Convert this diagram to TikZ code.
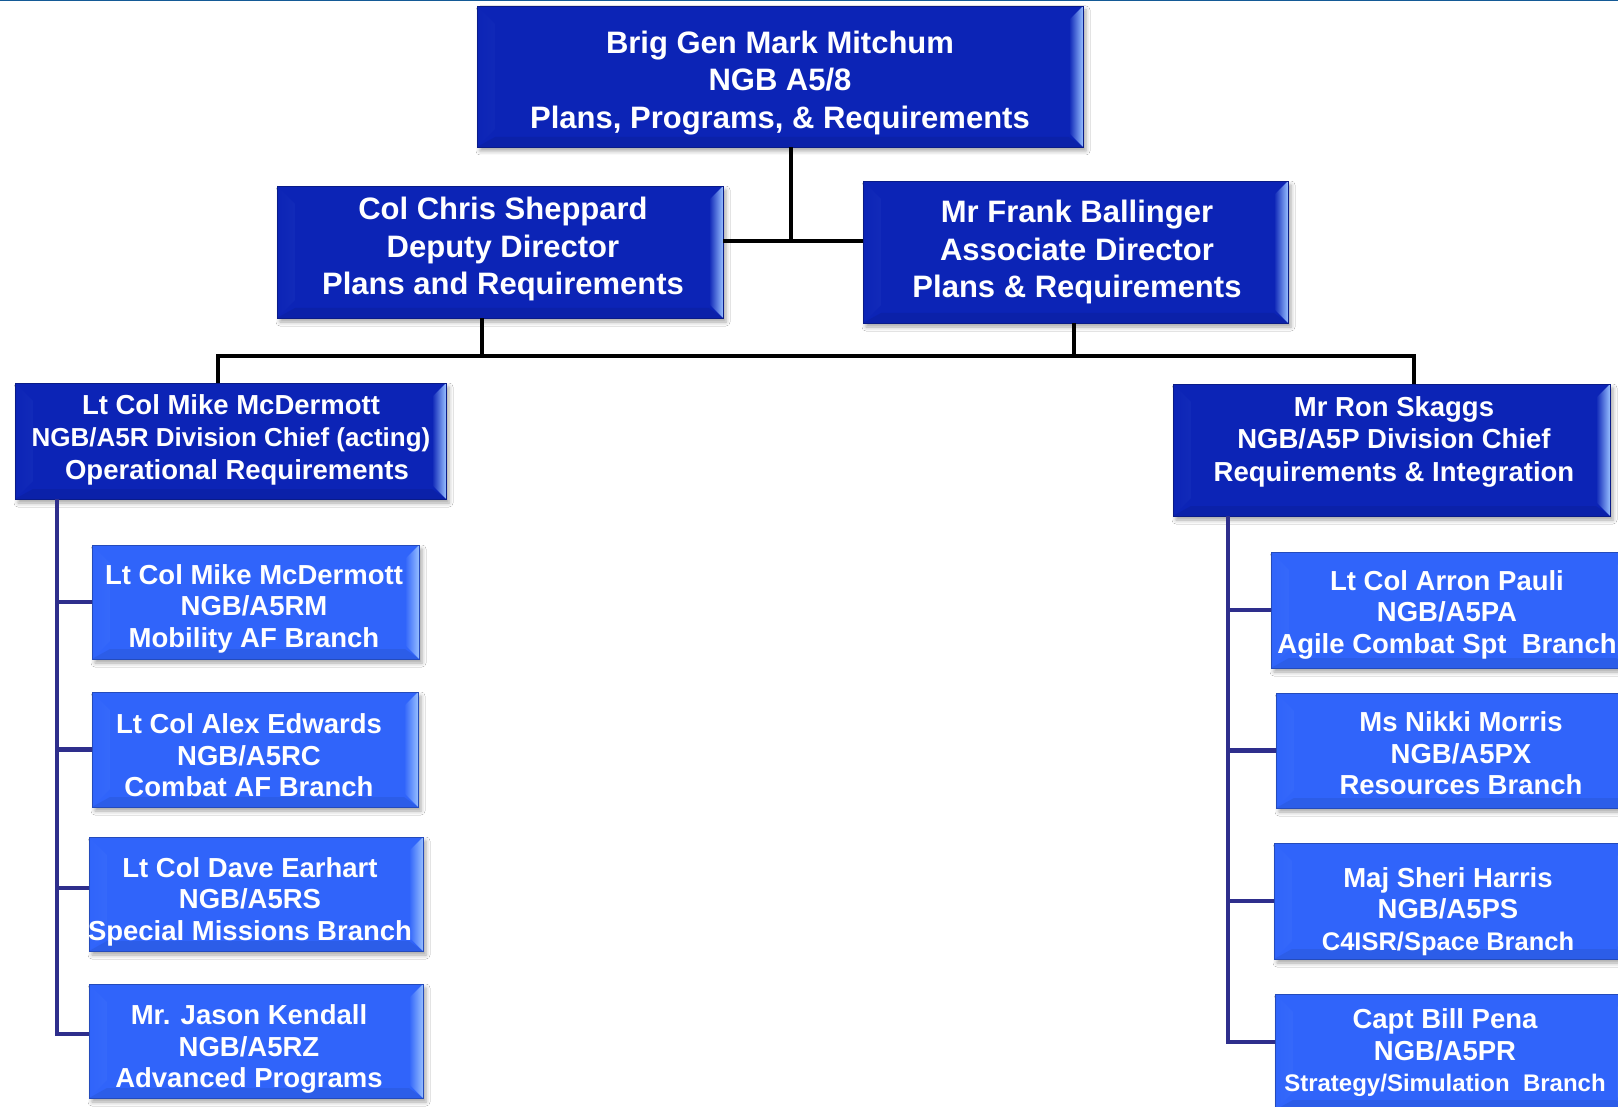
\documentclass[tikz,border=0pt]{standalone}
\usepackage{fontspec}
\setmainfont{Liberation Sans}
\usetikzlibrary{shadows.blur,calc}
\definecolor{dkbox}{RGB}{12,36,182}
\definecolor{ltbox}{RGB}{48,100,250}
\definecolor{bevlt}{RGB}{150,190,255}
\definecolor{navy}{RGB}{46,46,140}
\definecolor{topline}{RGB}{20,90,150}
\tikzset{
  orgbox/.style={draw=#1!75!black, line width=0.8pt, fill=#1, inner sep=0pt,
    blur shadow={shadow xshift=3pt, shadow yshift=-4pt, shadow blur radius=4pt, shadow opacity=35},
    path picture={
      \shade[left color=#1, right color=bevlt]
        (path picture bounding box.north west) -- ++(18pt,-18pt)
        -- ($(path picture bounding box.south west)+(18pt,18pt)$)
        -- (path picture bounding box.south west) -- cycle;
      \shade[left color=#1, right color=bevlt]
        (path picture bounding box.north east) -- ++(-14pt,-14pt)
        -- ($(path picture bounding box.south east)+(-14pt,14pt)$)
        -- (path picture bounding box.south east) -- cycle;
      \fill[#1!80!black, opacity=0.35]
        (path picture bounding box.south west) -- ++(18pt,10pt)
        -- ($(path picture bounding box.south east)+(-14pt,10pt)$)
        -- (path picture bounding box.south east) -- cycle;
    }},
  bigtext/.style={text=white, align=center, inner sep=0pt, font=\bfseries\fontsize{31}{37.5}\selectfont},
  midtext/.style={text=white, align=center, inner sep=0pt, font=\bfseries\fontsize{27.5}{32.5}\selectfont},
  smalltext/.style={text=white, align=center, inner sep=0pt, font=\bfseries\fontsize{27.5}{31.5}\selectfont},
  conn/.style={black, line width=4pt},
  trunk/.style={navy, line width=4.5pt},
}
\begin{document}
\begin{tikzpicture}[x=1pt,y=1pt]
\useasboundingbox (0,0) rectangle (1618,-1107);
\clip (0,0) rectangle (1618,-1107);
\fill[white] (0,0) rectangle (1618,-1107);
\draw[topline, line width=1.5pt] (0,-0.75) -- (1618,-0.75);

% boxes
\node[orgbox=dkbox, minimum width=606pt, minimum height=141pt] (top) at (780,-76.5) {};
\node[orgbox=dkbox, minimum width=446pt, minimum height=132pt] (dep) at (500,-252) {};
\node[orgbox=dkbox, minimum width=425pt, minimum height=142pt] (assoc) at (1075.5,-252) {};
\node[orgbox=dkbox, minimum width=431pt, minimum height=116pt] (divR) at (230.5,-441) {};
\node[orgbox=dkbox, minimum width=437pt, minimum height=132pt] (divP) at (1391.5,-450) {};
\node[orgbox=ltbox, minimum width=327pt, minimum height=114pt] (rm) at (255.5,-602) {};
\node[orgbox=ltbox, minimum width=326pt, minimum height=115pt] (rc) at (255,-749.5) {};
\node[orgbox=ltbox, minimum width=334pt, minimum height=114pt] (rs) at (256,-894) {};
\node[orgbox=ltbox, minimum width=334pt, minimum height=114pt] (rz) at (256,-1041) {};
\node[orgbox=ltbox, minimum width=359pt, minimum height=116pt] (pa) at (1450.5,-610) {};
\node[orgbox=ltbox, minimum width=364pt, minimum height=115pt] (px) at (1458,-750.5) {};
\node[orgbox=ltbox, minimum width=356pt, minimum height=116pt] (ps) at (1452,-901) {};
\node[orgbox=ltbox, minimum width=355pt, minimum height=116pt] (pr) at (1452.5,-1052) {};

% texts
\node[bigtext] (topT) at (780,-83) {Brig Gen Mark Mitchum\\NGB A5/8\\Plans, Programs, \& Requirements};
\node[bigtext] (depT) at (503,-249) {Col Chris Sheppard\\Deputy Director\\Plans and Requirements};
\node[bigtext] (assocT) at (1077,-252) {Mr Frank Ballinger\\Associate Director\\Plans \& Requirements};
\node[midtext] (divRT) at (231,-439.5) {Lt Col Mike McDermott\\{\fontsize{26}{32.5}\selectfont NGB/A5R Division Chief (acting)}\\\hspace*{12pt}Operational Requirements};
\node[midtext] (divPT) at (1394,-441.5) {Mr Ron Skaggs\\NGB/A5P Division Chief\\Requirements \& Integration};
\node[smalltext] (rmT) at (254,-608.5) {Lt Col Mike McDermott\\NGB/A5RM\\Mobility AF Branch};
\node[smalltext] (rcT) at (249,-755.5) {Lt Col Alex Edwards\\NGB/A5RC\\Combat AF Branch};
\node[smalltext] (rsT) at (250,-901.5) {Lt Col Dave Earhart\\NGB/A5RS\\Special Missions Branch};
\node[smalltext] (rzT) at (249,-1049) {Mr. Jason Kendall\\NGB/A5RZ\\Advanced Programs};
\node[smalltext] (paT) at (1447,-614.5) {Lt Col Arron Pauli\\NGB/A5PA\\Agile Combat Spt\ \ Branch};
\node[smalltext] (pxT) at (1461,-753.5) {Ms Nikki Morris\\NGB/A5PX\\Resources Branch};
\node[smalltext] (psT) at (1448,-911.5) {Maj Sheri Harris\\NGB/A5PS\\{\fontsize{25.5}{31.5}\selectfont C4ISR/Space Branch}};
\node[smalltext] (prT) at (1445,-1053) {Capt Bill Pena\\NGB/A5PR\\{\fontsize{24}{28}\selectfont Strategy/Simulation\ \ Branch}};

% black connectors
\coordinate (jA) at (791,-241);
\draw[conn] (top.south -| jA) -- (jA);
\draw[conn] (dep.east |- jA) -- (assoc.west |- jA);
\coordinate (busL) at (218,-356);
\coordinate (busR) at (1414,-356);
\draw[conn] (divR.north -| busL) -- (busL) -- (busR) -- (divP.north -| busR);
\draw[conn] ([xshift=-18pt]dep.south) -- ([xshift=-18pt]dep.south |- busL);
\draw[conn] ([xshift=-1.5pt]assoc.south) -- ([xshift=-1.5pt]assoc.south |- busL);

% left trunk
\coordinate (tl) at (57,-1034);
\draw[trunk] (divR.south -| tl) -- (tl) -- ([yshift=7pt]rz.west);
\draw[trunk] (rm.west -| tl) -- (rm.west);
\draw[trunk] (rc.west -| tl) -- (rc.west);
\draw[trunk] ([yshift=6pt]rs.west -| tl) -- ([yshift=6pt]rs.west);

% right trunk
\coordinate (tr) at (1228,-1042);
\draw[trunk] (divP.south -| tr) -- (tr) -- ([yshift=10pt]pr.west);
\draw[trunk] (pa.west -| tr) -- (pa.west);
\draw[trunk] (px.west -| tr) -- (px.west);
\draw[trunk] (ps.west -| tr) -- (ps.west);
\end{tikzpicture}
\end{document}
